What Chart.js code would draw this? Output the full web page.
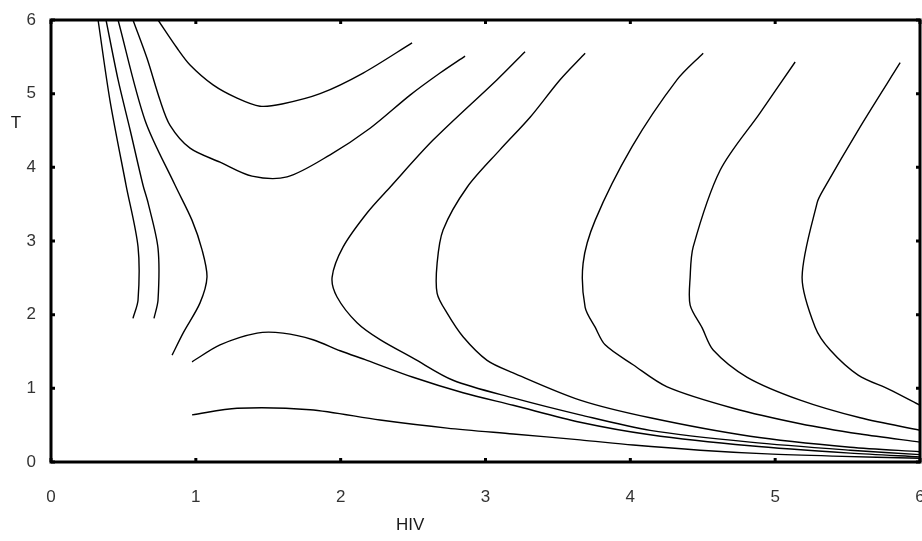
<!DOCTYPE html>
<html>
<head>
<meta charset="utf-8">
<script src="https://cdn.jsdelivr.net/npm/chart.js@4.4.0/dist/chart.umd.min.js"></script>
<style>
  body { margin: 0; background: #fff; }
  #wrap { width: 922px; height: 541px; }
</style>
</head>
<body>
<div id="wrap"><canvas id="myChart" width="922" height="541"></canvas></div>
<script>
// axis setup
var xTicks = [0, 1, 2, 3, 4, 5, 6];
var yTicks = [0, 1, 2, 3, 4, 5, 6];
var xTitle = "HIV";
var yTitle = "T";

// trajectories as [HIV, T] pairs
var curve1 = [[0.325, 6.0], [0.407, 4.91], [0.518, 3.76], [0.601, 2.92], [0.601, 2.20], [0.566, 1.95]];
var curve2 = [[0.380, 6.0], [0.463, 5.19], [0.546, 4.51], [0.635, 3.76], [0.670, 3.52], [0.739, 2.90], [0.739, 2.20], [0.711, 1.95]];
var curve3 = [[0.463, 6.0], [0.649, 4.64], [0.856, 3.76], [0.974, 3.28], [1.043, 2.88], [1.077, 2.51], [1.029, 2.16], [0.912, 1.75], [0.836, 1.45]];
var curve4 = [[0.566, 6.0], [0.663, 5.48], [0.753, 4.91], [0.822, 4.57], [0.960, 4.26], [1.167, 4.07], [1.388, 3.88], [1.630, 3.87], [1.927, 4.17], [2.203, 4.53], [2.479, 4.98], [2.686, 5.28], [2.859, 5.51]];
var curve5 = [[0.739, 6.0], [0.870, 5.62], [0.960, 5.39], [1.119, 5.12], [1.285, 4.94], [1.443, 4.83], [1.595, 4.86], [1.858, 5.00], [2.155, 5.28], [2.493, 5.69]];
var curve6 = [[0.974, 1.36], [1.167, 1.59], [1.423, 1.75], [1.602, 1.75], [1.809, 1.66], [1.996, 1.51], [2.182, 1.38], [2.500, 1.15], [2.845, 0.94], [3.191, 0.77], [3.653, 0.54], [4.137, 0.37], [4.827, 0.22], [5.518, 0.12], [6.0, 0.07]];
var curve7 = [[3.273, 5.57], [3.080, 5.19], [2.638, 4.37], [2.341, 3.73], [2.182, 3.38], [2.017, 2.92], [1.941, 2.51], [1.975, 2.24], [2.113, 1.89], [2.272, 1.66], [2.500, 1.41], [2.776, 1.11], [3.191, 0.87], [3.653, 0.64], [4.137, 0.43], [4.827, 0.27], [5.518, 0.16], [6.0, 0.10]];
var curve8 = [[3.688, 5.55], [3.515, 5.19], [3.308, 4.68], [3.101, 4.24], [2.873, 3.73], [2.707, 3.15], [2.666, 2.70], [2.666, 2.29], [2.735, 2.02], [2.845, 1.70], [3.011, 1.38], [3.191, 1.21], [3.653, 0.84], [4.137, 0.60], [4.827, 0.35], [5.518, 0.20], [6.0, 0.14]];
var curve9 = [[0.974, 0.64], [1.285, 0.73], [1.789, 0.71], [2.272, 0.57], [2.735, 0.46], [3.191, 0.38], [3.653, 0.30], [4.019, 0.23], [4.482, 0.16], [4.945, 0.11], [5.401, 0.08], [6.0, 0.05]];
var curve10 = [[4.503, 5.55], [4.323, 5.19], [4.012, 4.28], [3.757, 3.28], [3.674, 2.70], [3.688, 2.10], [3.757, 1.83], [3.826, 1.59], [4.019, 1.32], [4.254, 1.02], [4.710, 0.73], [5.173, 0.52], [5.587, 0.38], [6.0, 0.27]];
var curve11 = [[5.138, 5.43], [4.896, 4.74], [4.620, 3.96], [4.434, 2.92], [4.413, 2.51], [4.413, 2.13], [4.496, 1.82], [4.572, 1.52], [4.807, 1.15], [5.173, 0.84], [5.587, 0.60], [6.0, 0.43]];
var curve12 = [[5.863, 5.42], [5.587, 4.55], [5.331, 3.69], [5.290, 3.52], [5.186, 2.51], [5.276, 1.83], [5.380, 1.52], [5.573, 1.18], [5.794, 0.98], [6.0, 0.77]];

var curves = [curve1, curve2, curve3, curve4, curve5, curve6, curve7, curve8, curve9, curve10, curve11, curve12];

var labelFont = { family: "Liberation Sans", size: 17 };

// box, inward ticks and the two axis names
var framePlugin = {
    id: "frame",
    afterDraw: function (chart) {
        var ctx = chart.ctx;
        var a = chart.chartArea;
        var xs = chart.scales.x;
        var ys = chart.scales.y;
        ctx.save();
        ctx.strokeStyle = "#000";
        ctx.lineWidth = 3;
        ctx.strokeRect(a.left, a.top, a.right - a.left, a.bottom - a.top);

        ctx.beginPath();
        xTicks.forEach(function (v) {
            var px = xs.getPixelForValue(v);
            ctx.moveTo(px, a.bottom);
            ctx.lineTo(px, a.bottom - 4);
            ctx.moveTo(px, a.top);
            ctx.lineTo(px, a.top + 4);
        });
        yTicks.forEach(function (v) {
            var py = ys.getPixelForValue(v);
            ctx.moveTo(a.left, py);
            ctx.lineTo(a.left + 4, py);
            ctx.moveTo(a.right, py);
            ctx.lineTo(a.right - 4, py);
        });
        ctx.stroke();

        ctx.fillStyle = "#1a1a1a";
        ctx.font = '17px "Liberation Sans"';
        ctx.textAlign = "center";
        ctx.textBaseline = "middle";
        ctx.fillText(yTitle, 16, ys.getPixelForValue(4.6));
        ctx.fillText(xTitle, xs.getPixelForValue(2.48), 525);
        ctx.restore();
    }
};

var ctx = document.getElementById("myChart").getContext("2d");

var myChart = new Chart(ctx, {
    type: "scatter",
    data: {
        datasets: curves.map(function (c) {
            return {
                data: c.map(function (p) { return { x: p[0], y: p[1] }; }),
                showLine: true,
                borderColor: "#000",
                borderWidth: 1.4,
                pointRadius: 0,
                tension: 0.3,
                fill: false
            };
        })
    },
    options: {
        responsive: false,
        animation: false,
        devicePixelRatio: 1,
        layout: { padding: { top: 20, right: 2, left: 0, bottom: 0 } },
        plugins: {
            legend: { display: false },
            tooltip: { enabled: false }
        },
        scales: {
            x: {
                type: "linear",
                min: 0,
                max: 6,
                afterBuildTicks: function (scale) {
                    scale.ticks = xTicks.map(function (v) { return { value: v }; });
                },
                afterFit: function (scale) {
                    scale.height = 79;
                    scale.paddingLeft = 0;
                    scale.paddingRight = 0;
                },
                grid: { display: false, drawTicks: false },
                border: { display: false },
                ticks: { color: "#333", font: labelFont, padding: 25, maxRotation: 0 }
            },
            y: {
                type: "linear",
                min: 0,
                max: 6,
                afterBuildTicks: function (scale) {
                    scale.ticks = yTicks.map(function (v) { return { value: v }; });
                },
                afterFit: function (scale) {
                    scale.width = 51;
                    scale.paddingTop = 0;
                    scale.paddingBottom = 0;
                },
                grid: { display: false, drawTicks: false },
                border: { display: false },
                ticks: { color: "#333", font: labelFont, padding: 15 }
            }
        }
    },
    plugins: [framePlugin]
});
</script>
</body>
</html>
